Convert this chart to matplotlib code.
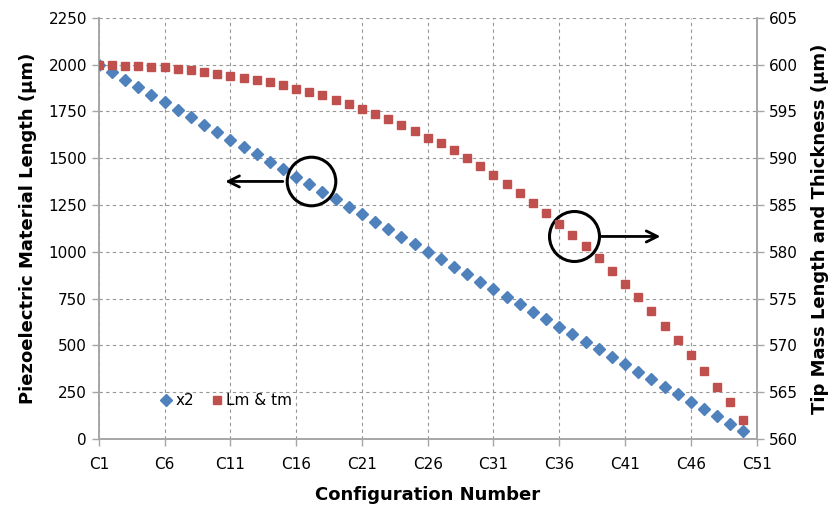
import matplotlib.pyplot as plt

configs = ["C%d" % i for i in range(1, 52)]

x2 = [2000, 1960, 1920, 1880, 1840, 1800, 1760, 1720, 1680, 1640,
      1600, 1560, 1520, 1480, 1440, 1400, 1360, 1320, 1280, 1240,
      1200, 1160, 1120, 1080, 1040, 1000, 960, 920, 880, 840,
      800, 760, 720, 680, 640, 600, 560, 520, 480, 440,
      400, 360, 320, 280, 240, 200, 160, 120, 80, 40]

lm_tm = [600.0, 600.0, 599.9, 599.85, 599.8, 599.7, 599.55, 599.4, 599.2, 599.0,
         598.8, 598.6, 598.4, 598.1, 597.8, 597.4, 597.1, 596.75, 596.2, 595.75,
         595.3, 594.7, 594.2, 593.5, 592.9, 592.2, 591.6, 590.9, 590.0, 589.2,
         588.2, 587.3, 586.3, 585.2, 584.1, 583.0, 581.8, 580.6, 579.3, 577.9,
         576.6, 575.2, 573.7, 572.1, 570.6, 569.0, 567.3, 565.6, 563.9, 562.0]

blue = '#4F81BD'
red = '#C0504D'
grey = '#A6A6A6'

fig = plt.figure(figsize=(8.37, 5.11), dpi=100)
ax = fig.add_axes([0.118, 0.141, 0.786, 0.824])
ax2 = ax.twinx()

pos = list(range(1, len(x2) + 1))
l1, = ax.plot(pos, x2, 'D', color=blue, markersize=6.5, label='x2', zorder=3)
l2, = ax2.plot(pos, lm_tm, 's', color=red, markersize=6.2, label='Lm & tm', zorder=3)

ax.set_xlim(1, 51)
ax.set_ylim(0, 2250)
ax.set_yticks(range(0, 2251, 250))
ax2.set_ylim(560, 605)
ax2.set_yticks(range(560, 606, 5))

ticks = list(range(1, 52, 5))
ax.set_xticks(ticks)
ax.set_xticklabels([configs[t - 1] for t in ticks])

ax.grid(True, linestyle=(0, (3, 3)), color='#969696', linewidth=0.8)
ax.set_axisbelow(True)

for a in (ax, ax2):
    a.spines['top'].set_visible(False)
    for s in ('left', 'right', 'bottom'):
        a.spines[s].set_color(grey)
        a.spines[s].set_linewidth(1.2)
    a.tick_params(colors=grey, labelcolor='black', labelsize=11, length=5, width=1)
ax.tick_params(axis='x', pad=8)

ax.set_xlabel('Configuration Number', fontsize=13, fontweight='bold', labelpad=10)
ax.set_ylabel('Piezoelectric Material Length (\u00b5m)', fontsize=13, fontweight='bold', labelpad=8)
ax2.set_ylabel('Tip Mass Length and Thickness (\u00b5m)', fontsize=13, fontweight='bold', labelpad=10)

# circles and arrows marking which axis each series belongs to
ax.plot([17.1], [1376], 'o', markersize=35, markerfacecolor='none',
        markeredgecolor='black', markeredgewidth=2.2, zorder=4)
ax.annotate('', xy=(10.4, 1376), xytext=(15.2, 1376),
            arrowprops=dict(arrowstyle='->', color='black', lw=2, mutation_scale=20), zorder=4)
ax.plot([37.1], [1082], 'o', markersize=36, markerfacecolor='none',
        markeredgecolor='black', markeredgewidth=2.2, zorder=4)
ax.annotate('', xy=(43.9, 1082), xytext=(39.0, 1082),
            arrowprops=dict(arrowstyle='->', color='black', lw=2, mutation_scale=20), zorder=4)

ax.legend(handles=[l1, l2], loc='lower left', bbox_to_anchor=(0.07, 0.04), ncol=2,
          frameon=False, fontsize=11, handletextpad=0.1, columnspacing=1.0,
          handlelength=1.0)

fig.savefig('out.png', dpi=100)
